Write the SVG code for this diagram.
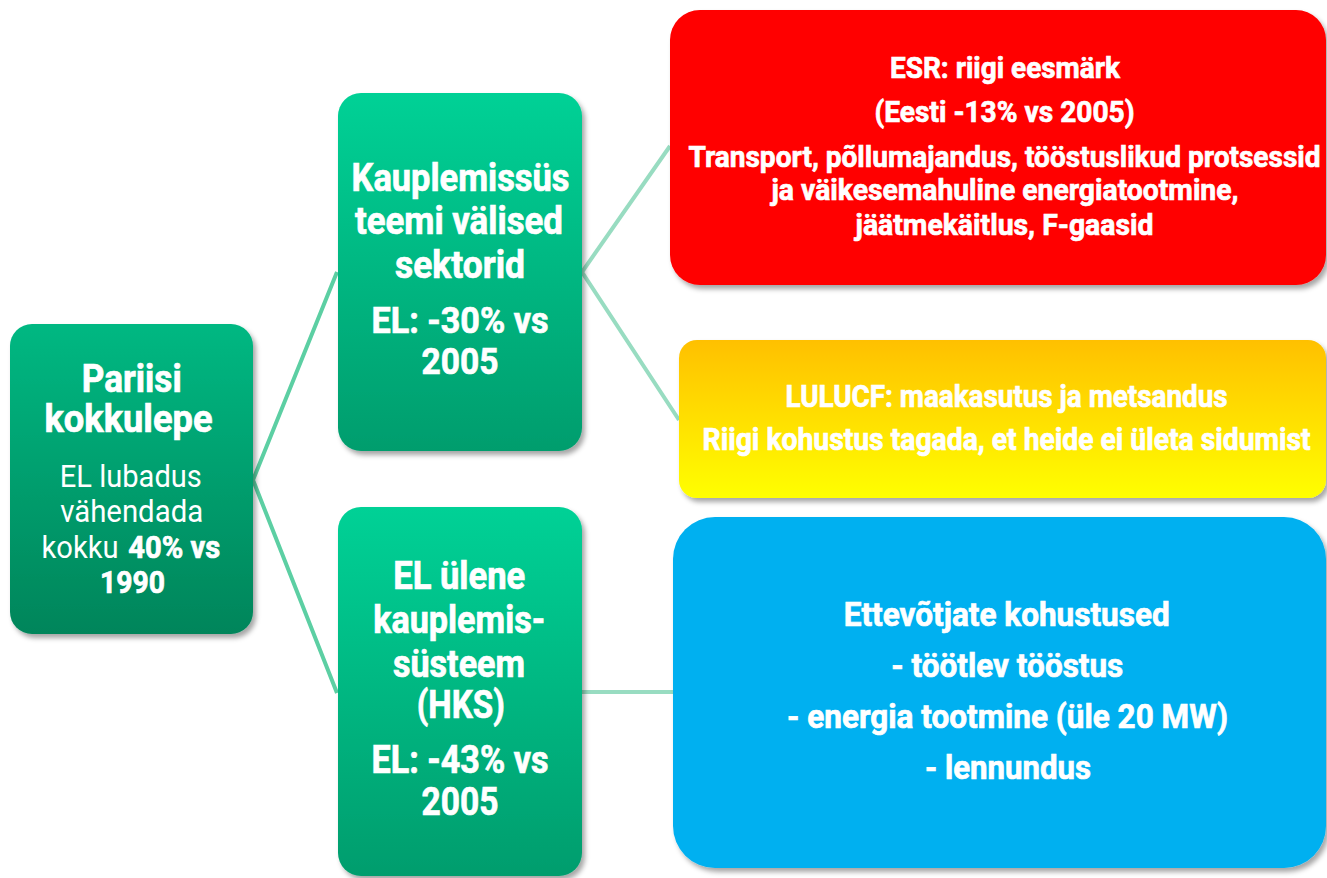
<svg xmlns="http://www.w3.org/2000/svg" width="1327" height="878" viewBox="0 0 1327 878">
<style>
text{font-family:Roboto,"Liberation Sans",sans-serif;fill:#ffffff;text-anchor:middle}
.b{font-weight:700;stroke:#ffffff;stroke-width:0.7}
.r{font-weight:400}
.conA{stroke:#5ccfa3;stroke-width:4;fill:none}
.conB{stroke:#98dcc1;stroke-width:4;fill:none}
</style>
<defs>
<linearGradient id="gL" x1="0" y1="0" x2="0" y2="1"><stop offset="0" stop-color="#00b882"/><stop offset="1" stop-color="#00855a"/></linearGradient>
<linearGradient id="gM" x1="0" y1="0" x2="0" y2="1"><stop offset="0" stop-color="#00d196"/><stop offset="1" stop-color="#009d6d"/></linearGradient>
<linearGradient id="gY" x1="0" y1="0" x2="0" y2="1"><stop offset="0" stop-color="#ffc000"/><stop offset="1" stop-color="#ffff00"/></linearGradient>
<filter id="sh" x="-10%" y="-10%" width="125%" height="125%"><feDropShadow dx="3" dy="4" stdDeviation="2.5" flood-color="#000" flood-opacity="0.35"/></filter>
</defs>
<rect width="1327" height="878" fill="#ffffff"/>
<g id="connectors">
<polyline class="conA" points="337,272 253,480 337,693"/>
<polyline class="conB" points="670,146 582,272 679,420"/>
<line class="conB" x1="582" y1="692" x2="674" y2="692"/>
</g>
<g id="pariisi">
<rect x="10" y="324" width="243" height="310" rx="22" fill="url(#gL)" filter="url(#sh)"/>
<text class="b" x="131.7" y="392" font-size="38" textLength="100" lengthAdjust="spacingAndGlyphs">Pariisi</text>
<text class="b" x="128.5" y="432" font-size="38" textLength="168" lengthAdjust="spacingAndGlyphs">kokkulepe</text>
<text class="r" x="130.8" y="487" font-size="31" textLength="142" lengthAdjust="spacingAndGlyphs">EL lubadus</text>
<text class="r" x="131.7" y="522" font-size="31" textLength="143" lengthAdjust="spacingAndGlyphs">vähendada</text>
<text class="r" x="80" y="558" font-size="31" textLength="77" lengthAdjust="spacingAndGlyphs">kokku</text>
<text class="b" x="174.2" y="558" font-size="31" textLength="92" lengthAdjust="spacingAndGlyphs">40% vs</text>
<text class="b" x="132.5" y="593" font-size="31" textLength="65" lengthAdjust="spacingAndGlyphs">1990</text>
</g>
<g id="valised">
<rect x="338" y="93" width="244" height="358" rx="23" fill="url(#gM)" filter="url(#sh)"/>
<text class="b" x="460.5" y="191" font-size="38" textLength="218" lengthAdjust="spacingAndGlyphs">Kauplemissüs</text>
<text class="b" x="458.9" y="234" font-size="38" textLength="208" lengthAdjust="spacingAndGlyphs">teemi välised</text>
<text class="b" x="460" y="278" font-size="38" textLength="130" lengthAdjust="spacingAndGlyphs">sektorid</text>
<text class="b" x="460" y="333" font-size="37" textLength="177" lengthAdjust="spacingAndGlyphs">EL: -30% vs</text>
<text class="b" x="460" y="374" font-size="37" textLength="77" lengthAdjust="spacingAndGlyphs">2005</text>
</g>
<g id="hks">
<rect x="338" y="507" width="244" height="369" rx="23" fill="url(#gM)" filter="url(#sh)"/>
<text class="b" x="459.2" y="589" font-size="38" textLength="132" lengthAdjust="spacingAndGlyphs">EL ülene</text>
<text class="b" x="459.2" y="633" font-size="38" textLength="172" lengthAdjust="spacingAndGlyphs">kauplemis-</text>
<text class="b" x="459" y="677" font-size="38" textLength="132" lengthAdjust="spacingAndGlyphs">süsteem</text>
<text class="b" x="460.8" y="718" font-size="38" textLength="88" lengthAdjust="spacingAndGlyphs">(HKS)</text>
<text class="b" x="460" y="773" font-size="38" textLength="177" lengthAdjust="spacingAndGlyphs">EL: -43% vs</text>
<text class="b" x="460" y="815" font-size="38" textLength="77" lengthAdjust="spacingAndGlyphs">2005</text>
</g>
<g id="esr">
<rect x="670" y="10" width="656" height="275" rx="30" fill="#ff0000" filter="url(#sh)"/>
<text class="b" x="1005" y="78" font-size="30" textLength="230" lengthAdjust="spacingAndGlyphs">ESR: riigi eesmärk</text>
<text class="b" x="1004.5" y="122" font-size="30" textLength="260" lengthAdjust="spacingAndGlyphs">(Eesti -13% vs 2005)</text>
<text class="b" x="1004.5" y="167" font-size="30" textLength="632" lengthAdjust="spacingAndGlyphs">Transport, põllumajandus, tööstuslikud protsessid</text>
<text class="b" x="1005" y="200" font-size="30" textLength="467" lengthAdjust="spacingAndGlyphs">ja väikesemahuline energiatootmine,</text>
<text class="b" x="1004.5" y="235" font-size="30" textLength="298" lengthAdjust="spacingAndGlyphs">jäätmekäitlus, F-gaasid</text>
</g>
<g id="lulucf">
<rect x="679" y="340" width="647" height="158" rx="18" fill="url(#gY)" filter="url(#sh)"/>
<text class="b" x="1006.6" y="407" font-size="31" textLength="442" lengthAdjust="spacingAndGlyphs">LULUCF: maakasutus ja metsandus</text>
<text class="b" x="1006.6" y="450" font-size="31" textLength="608" lengthAdjust="spacingAndGlyphs">Riigi kohustus tagada, et heide ei ületa sidumist</text>
</g>
<g id="ettevotjad">
<rect x="673" y="517" width="653" height="351" rx="42" fill="#00b0f0" filter="url(#sh)"/>
<text class="b" x="1006.7" y="626" font-size="33" textLength="326" lengthAdjust="spacingAndGlyphs">Ettevõtjate kohustused</text>
<text class="b" x="1007.3" y="677" font-size="33" textLength="232" lengthAdjust="spacingAndGlyphs">- töötlev tööstus</text>
<text class="b" x="1007.5" y="728" font-size="33" textLength="441" lengthAdjust="spacingAndGlyphs">- energia tootmine (üle 20 MW)</text>
<text class="b" x="1008" y="779" font-size="33" textLength="166" lengthAdjust="spacingAndGlyphs">- lennundus</text>
</g>
</svg>
